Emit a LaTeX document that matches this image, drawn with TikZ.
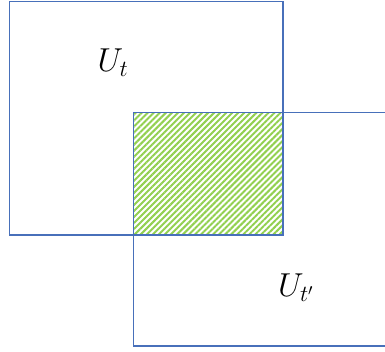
\documentclass[tikz,border=0pt]{standalone}
\usepackage{amsmath,amssymb}
\usepackage{xcolor}
\usepackage{tikz}
\usetikzlibrary{patterns.meta}
\definecolor{edge}{RGB}{72,112,186}
\definecolor{hatch}{RGB}{146,208,80}

\begin{document}
\begin{tikzpicture}[x=0.75pt, y=-0.75pt,
    setbox/.style={draw=edge, line width=0.8pt},
    overlap/.style={pattern={Lines[angle=45,distance=3.2pt,line width=1.5pt]}, pattern color=hatch},
    lbl/.style={font=\fontsize{26}{30}\selectfont}]
  \useasboundingbox (0,0) rectangle (385,351);
  \clip (0,0) rectangle (385,351);
  % intersection hatch
  \fill[overlap] (133.5,112.5) rectangle (283,235);
  % U_t
  \draw[setbox] (9.5,1.5) rectangle (283,235);
  % U_t'
  \draw[setbox] (133.5,112.5) rectangle (395,346);
  % labels
  \node[lbl] (ut) at (113,63) {$U_t$};
  \node[lbl] (utp) at (296,288) {$U_{t'}$};
\end{tikzpicture}
\end{document}
